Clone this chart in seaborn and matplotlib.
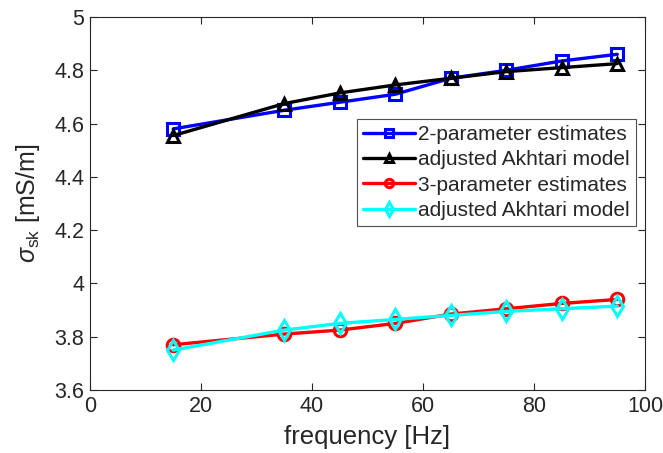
import matplotlib
matplotlib.use("Agg")
import matplotlib.pyplot as plt
from matplotlib.lines import Line2D
import seaborn as sns
import pandas as pd

freq = [15, 35, 45, 55, 65, 75, 85, 95]
est2 = [4.58, 4.65, 4.68, 4.71, 4.77, 4.80, 4.835, 4.86]
akh2 = [4.555, 4.675, 4.715, 4.745, 4.77, 4.795, 4.81, 4.825]
est3 = [3.77, 3.81, 3.825, 3.85, 3.885, 3.905, 3.925, 3.94]
akh3 = [3.75, 3.825, 3.85, 3.865, 3.88, 3.895, 3.905, 3.915]

labels = ["2-parameter estimates", "adjusted Akhtari model",
          "3-parameter estimates", "adjusted Akhtari model"]
colors = ["#0000FF", "#000000", "#FF0000", "#00FFFF"]
markers = ["s", "^", "o", "d"]

sns.set_style("white")
plt.rcParams['font.family'] = ['Liberation Sans', 'DejaVu Sans']
plt.rcParams['mathtext.fontset'] = 'custom'
plt.rcParams['mathtext.rm'] = 'Liberation Sans'
plt.rcParams['mathtext.it'] = 'Liberation Sans:italic'

fig = plt.figure(figsize=(6.63, 4.53), dpi=100)
ax = fig.add_axes([0.1357, 0.139, 0.8372, 0.8235])

series = [est2, akh2, est3, akh3]
handles = []
for i, (vals, lab, c, m) in enumerate(zip(series, labels, colors, markers)):
    df = pd.DataFrame({"f": freq, "s": vals})
    sns.lineplot(data=df, x="f", y="s", ax=ax, color=c, linewidth=2.4,
                 marker=m, markersize=9 if m != "d" else 10, markerfacecolor="none",
                 markeredgecolor=c, markeredgewidth=2.2, label=f"_{i}")
    handles.append(Line2D([], [], color=c, linewidth=2.4, marker=m,
                          markersize=6 if m != "d" else 7, markerfacecolor="none",
                          markeredgecolor=c, markeredgewidth=2.2))

ax.set_xlim(0, 100)
ax.set_ylim(3.6, 5.0)
ax.set_xticks([0, 20, 40, 60, 80, 100])
ax.set_yticks([3.6, 3.8, 4.0, 4.2, 4.4, 4.6, 4.8, 5.0])
ax.set_yticklabels(["3.6", "3.8", "4", "4.2", "4.4", "4.6", "4.8", "5"])
ax.tick_params(direction="in", length=5, width=0.8, colors="#262626",
               labelsize=15.5, top=True, right=True, bottom=True, left=True,
               labelcolor="#262626", pad=4)
for sp in ax.spines.values():
    sp.set_visible(True)
    sp.set_color("#262626")
    sp.set_linewidth(0.8)

ax.set_xlabel("frequency [Hz]", fontsize=18.5, color="#262626", labelpad=6)
ax.set_ylabel(r"$\sigma_{\rm sk}$ [mS/m]", fontsize=18, color="#262626", labelpad=9)

leg = ax.legend(handles, labels, loc="upper right", bbox_to_anchor=(0.984, 0.727),
                fontsize=15, frameon=True, fancybox=False, edgecolor="#262626",
                borderpad=0.3, labelspacing=0.3, handlelength=2.5,
                handletextpad=0.15, borderaxespad=0)
leg.get_frame().set_linewidth(0.8)

fig.savefig("out.png", dpi=100)
